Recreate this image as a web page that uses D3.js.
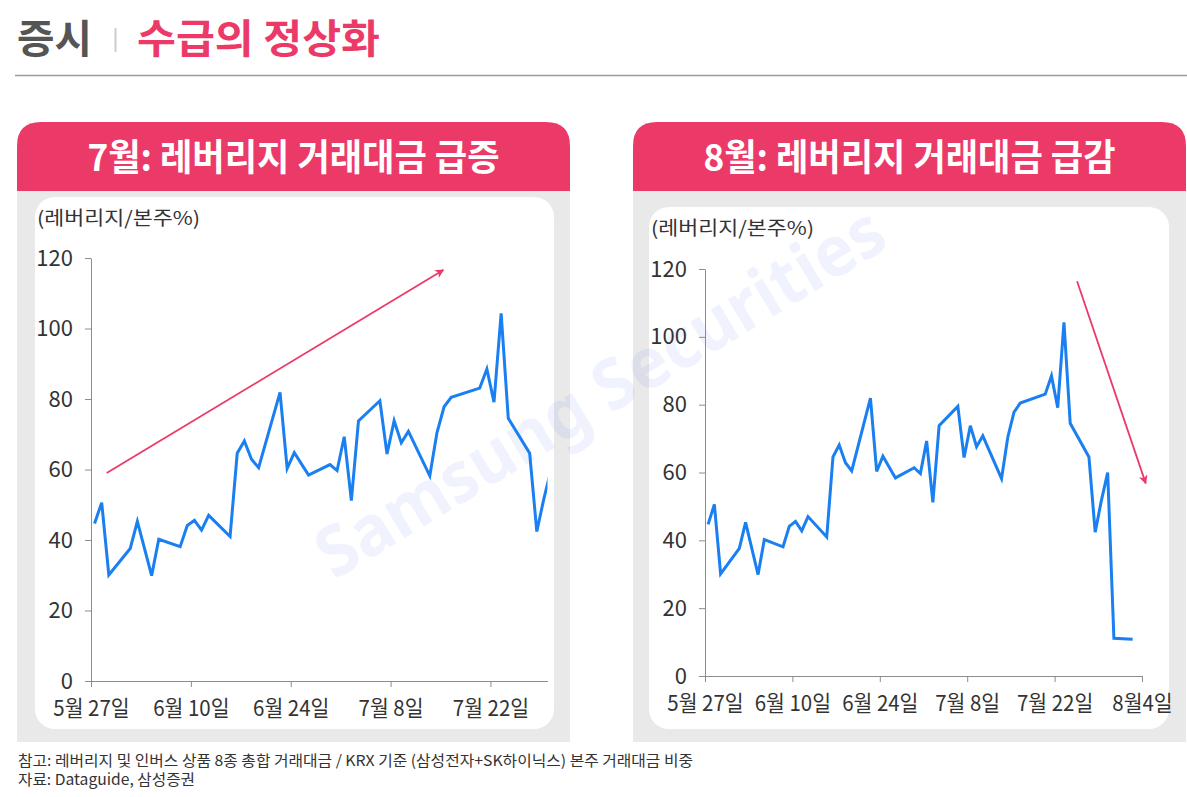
<!DOCTYPE html>
<html>
<head>
<meta charset="utf-8">
<script src="https://cdn.jsdelivr.net/npm/d3@7"></script>
<style>
  body { margin: 0; background: #fff; }
  svg text { font-family: "Noto Sans CJK KR", "Noto Sans", sans-serif; }
</style>
</head>
<body>
<svg id="chart" width="1187" height="797"></svg>
<script>
// days since 5/27 (trading days only) and leverage / underlying turnover ratio (%)
const dayOffset = [0,1,2,5,6,8,9,12,13,14,15,16,19,20,21,22,23,26,27,28,30,33,34,35,36,37,40,41,42,43,44,47,48,49,50,54,55,56,57,58,61,62,63,64,65,68];
const ratio = [44.7,50.6,30.1,37.6,45.3,29.9,40.2,38.1,44.1,45.6,42.8,47.0,41.0,64.6,68.1,62.9,60.5,81.9,60.3,64.8,58.4,61.4,59.7,69.3,51.2,73.8,79.5,64.4,73.8,67.6,70.8,58.2,70.4,77.8,80.5,83.1,88.5,79.1,104.3,74.5,64.6,42.4,51.8,60.0,11.1,10.8];

const yTicks = [0, 20, 40, 60, 80, 100, 120];
const julyTickDays = [0, 14, 28, 42, 56];
const julyTickLabels = ["5월 27일", "6월 10일", "6월 24일", "7월 8일", "7월 22일"];
const augTickDays = [0, 14, 28, 42, 56, 70];
const augTickLabels = ["5월 27일", "6월 10일", "6월 24일", "7월 8일", "7월 22일", "8월4일"];

// trend arrows, in (day, value) units
const trendUp = [[2.2, 59.0], [49.4, 116.6]];
const trendDown = [[59.6, 116.4], [70.6, 56.8]];

const pink = "#EC3A68", blue = "#1A7FF0";
const data = dayOffset.map((d, i) => ({day: d, v: ratio[i]}));

const svg = d3.select("#chart");

svg.append("defs").append("marker")
    .attr("id", "head")
    .attr("viewBox", "0 0 10 10")
    .attr("refX", 9).attr("refY", 5)
    .attr("markerWidth", 11).attr("markerHeight", 9)
    .attr("markerUnits", "userSpaceOnUse")
    .attr("orient", "auto")
  .append("path")
    .attr("d", "M0,0 L10,5 L0,10 L3,5 Z")
    .attr("fill", pink);

// page title
svg.append("text").attr("x", 17).attr("y", 53)
    .attr("font-size", 40).attr("font-weight", 700).attr("fill", "#555")
    .attr("textLength", 75).attr("lengthAdjust", "spacingAndGlyphs")
    .text("증시");
svg.append("line").attr("x1", 115.5).attr("x2", 115.5).attr("y1", 28).attr("y2", 52)
    .attr("stroke", "#ccc").attr("stroke-width", 2);
svg.append("text").attr("x", 137).attr("y", 53)
    .attr("font-size", 40).attr("font-weight", 700).attr("fill", pink)
    .attr("textLength", 243).attr("lengthAdjust", "spacingAndGlyphs")
    .text("수급의 정상화");
svg.append("line").attr("x1", 15).attr("x2", 1187).attr("y1", 75.5).attr("y2", 75.5)
    .attr("stroke", "#9a9a9a").attr("stroke-width", 1.3);

function topRounded(x, y, w, h, r) {
    return `M${x},${y + h} L${x},${y + r} Q${x},${y} ${x + r},${y} L${x + w - r},${y} Q${x + w},${y} ${x + w},${y + r} L${x + w},${y + h} Z`;
}

function panel(p) {
    const g = svg.append("g");
    g.append("rect").attr("x", p.x).attr("y", 190).attr("width", p.w).attr("height", 552)
        .attr("fill", "#E9E9E9");
    g.append("path").attr("d", topRounded(p.x, 122, p.w, 69, 24)).attr("fill", pink);
    g.append("text").attr("x", p.x + p.w / 2).attr("y", 171)
        .attr("text-anchor", "middle").attr("font-size", 37).attr("font-weight", 700)
        .attr("fill", "#fff").attr("textLength", 412).attr("lengthAdjust", "spacingAndGlyphs")
        .text(p.title);
    g.append("rect").attr("x", p.inner[0]).attr("y", p.inner[1])
        .attr("width", p.inner[2] - p.inner[0]).attr("height", p.inner[3] - p.inner[1])
        .attr("rx", 20).attr("fill", "#fff");
    g.append("text").attr("x", p.inner[0] + 2).attr("y", p.inner[1] + 28)
        .attr("font-size", 19).attr("fill", "#333")
        .attr("textLength", 163).attr("lengthAdjust", "spacingAndGlyphs")
        .text("(레버리지/본주%)");
}

panel({x: 17, w: 553, inner: [35, 197, 554, 729], title: "7월: 레버리지 거래대금 급증"});
panel({x: 633, w: 553, inner: [649, 207, 1169, 729], title: "8월: 레버리지 거래대금 급감"});

// watermark
svg.append("text")
    .attr("transform", "translate(600,392) rotate(-31)")
    .attr("text-anchor", "middle").attr("dy", "0.35em")
    .attr("font-size", 70).attr("font-weight", 700)
    .attr("textLength", 650).attr("lengthAdjust", "spacingAndGlyphs")
    .attr("fill", "rgb(50,100,230)").attr("fill-opacity", 0.075)
    .style("font-family", "'Noto Sans', sans-serif")
    .text("Samsung Securities");

function chart(c) {
    const x = d3.scaleLinear().domain(c.xDomain).range(c.xRange);
    const y = d3.scaleLinear().domain([0, 120]).range(c.yRange);
    const g = svg.append("g");

    const yAxis = g.append("g").attr("transform", `translate(${c.xRange[0]},0)`)
        .call(d3.axisLeft(y).tickValues(yTicks).tickSize(6).tickSizeOuter(0).tickPadding(12));
    yAxis.selectAll("text").attr("font-size", 22).attr("fill", "#333");

    const xAxis = g.append("g").attr("transform", `translate(0,${c.yRange[0]})`)
        .call(d3.axisBottom(x).tickValues(c.tickDays).tickSize(6).tickSizeOuter(0).tickPadding(13)
            .tickFormat((d, i) => c.tickLabels[i]));
    xAxis.selectAll("text").attr("font-size", 22).attr("fill", "#333")
        .attr("transform", "scale(0.93,1)");

    g.selectAll(".domain, .tick line").attr("stroke", "#8c8c8c");

    g.append("clipPath").attr("id", c.id)
      .append("rect").attr("x", c.xRange[0]).attr("y", 0)
        .attr("width", c.xRange[1] - c.xRange[0]).attr("height", 797);

    // points sit mid-day, as on a date axis
    const line = d3.line().x(d => x(d.day + 0.5)).y(d => y(d.v));
    g.append("path").datum(data.filter(d => d.day <= c.xDomain[1]))
        .attr("clip-path", `url(#${c.id})`)
        .attr("d", line)
        .attr("fill", "none").attr("stroke", blue).attr("stroke-width", 3)
        .attr("stroke-linejoin", "miter");

    g.append("path")
        .attr("d", d3.line().x(d => x(d[0])).y(d => y(d[1]))(c.arrow))
        .attr("fill", "none").attr("stroke", pink).attr("stroke-width", 1.8)
        .attr("marker-end", "url(#head)");
}

chart({id: "clipJul", xDomain: [0, 64], xRange: [91, 547.5], yRange: [681, 258],
       tickDays: julyTickDays, tickLabels: julyTickLabels, arrow: trendUp});
chart({id: "clipAug", xDomain: [0, 70], xRange: [705, 1142], yRange: [676, 269],
       tickDays: augTickDays, tickLabels: augTickLabels, arrow: trendDown});

// notes
svg.append("text").attr("x", 18).attr("y", 766).attr("font-size", 15).attr("fill", "#333")
    .attr("textLength", 675).attr("lengthAdjust", "spacingAndGlyphs")
    .text("참고: 레버리지 및 인버스 상품 8종 총합 거래대금 / KRX 기준 (삼성전자+SK하이닉스) 본주 거래대금 비중");
svg.append("text").attr("x", 18).attr("y", 785).attr("font-size", 15).attr("fill", "#333")
    .attr("textLength", 177).attr("lengthAdjust", "spacingAndGlyphs")
    .text("자료: Dataguide, 삼성증권");
</script>
</body>
</html>
